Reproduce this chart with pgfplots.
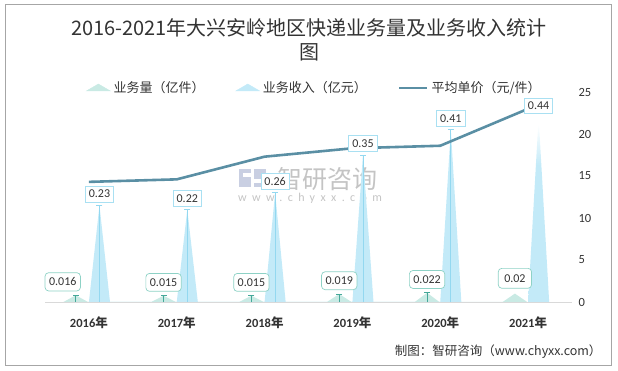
\documentclass[border=0pt]{standalone}
\usepackage{fontspec}
\setmainfont{Carlito}
\newfontfamily\cjk{Noto Sans CJK SC}
\usepackage{pgfplots}
\pgfplotsset{compat=1.18}
\definecolor{volcol}{HTML}{C9EAE4}
\definecolor{revcol}{HTML}{C3EAF8}
\definecolor{linecol}{HTML}{5A8FA4}
\definecolor{volborder}{HTML}{8ED2C6}
\definecolor{volline}{HTML}{45A899}
\definecolor{revborder}{HTML}{A9E0F2}
\definecolor{revline}{HTML}{93D8F0}
\definecolor{framecol}{HTML}{A6A6A6}
\definecolor{axisgray}{HTML}{D9D9D9}
\definecolor{txt}{HTML}{333333}
\definecolor{wmcol}{HTML}{C4C4C4}
\definecolor{logocol}{HTML}{C9CFE2}
\pgfdeclareverticalshading{revfade}{100bp}{color(0bp)=(revcol); color(62bp)=(revcol); color(73bp)=(white); color(100bp)=(white)}
\newcommand\yr[1]{\textbf{#1}{\cjk\bfseries 年}}
\tikzset{vollab/.style={draw=volborder, fill=white, rounded corners=3.5pt, text=txt, font=\fontsize{12}{12}\selectfont, inner xsep=4pt, inner ysep=5pt, yshift=4pt, anchor=south, line width=0.7pt}}
\pgfplotsset{base/.style={at={(45pt,69pt)}, anchor=south west, scale only axis,
  width=527pt, height=210pt, xmin=-0.5, xmax=5.5, clip=false}}
\begin{document}
\begin{tikzpicture}[x=1pt,y=1pt]
\useasboundingbox (0,0) rectangle (618,371);
\draw[color=framecol, line width=0.9pt] (5,6) rectangle (611,367);
\node[font=\cjk\fontsize{20}{24}\selectfont, align=center, text=txt] at (309,331) {2016-2021年大兴安岭地区快递业务量及业务收入统计\\图};
% watermark
\fill[logocol] (239,184) rectangle (251,202);
\fill[white] (243,194) rectangle (251,198);
\fill[logocol] (254,184) rectangle (266,202);
\fill[white] (254,188) rectangle (262,192);
\node[text=wmcol, font=\cjk\fontsize{25}{25}\selectfont] at (327,192) {智研咨询};
\node[text=wmcol, font=\fontsize{12}{12}\selectfont\addfontfeature{LetterSpace=45}] at (310,173) {www.chyxx.com};
\node[text=txt, font=\cjk\fontsize{12.5}{14}\selectfont, anchor=east] at (605,19) {制图：智研咨询（www.chyxx.com）};

% spikes (hidden left scale)
\begin{axis}[base, ymin=0, ymax=0.5,
  axis y line=none, axis x line*=bottom,
  x axis line style={draw=axisgray, line width=0.9pt, -},
  xtick={0,...,5},
  xticklabels={\yr{2016},\yr{2017},\yr{2018},\yr{2019},\yr{2020},\yr{2021}},
  major tick length=0,
  xticklabel style={yshift=-11pt, font=\fontsize{12.5}{14}\selectfont, text=txt}]
\addplot[fill=volcol, draw=none] coordinates {(-0.29,0)(-0.15,0.016)(-0.01,0) (0.71,0)(0.85,0.015)(0.99,0) (1.71,0)(1.85,0.015)(1.99,0) (2.71,0)(2.85,0.019)(2.99,0) (3.71,0)(3.85,0.022)(3.99,0) (4.71,0)(4.85,0.02)(4.99,0)};
\addplot[fill=revcol, draw=none] coordinates {(0,0)(0.12,0.23)(0.24,0) (1,0)(1.12,0.22)(1.24,0) (2,0)(2.12,0.26)(2.24,0) (3,0)(3.12,0.35)(3.24,0) (4,0)(4.12,0.41)(4.24,0)};
\addplot[draw=none, shade, shading=revfade] coordinates {(5,0)(5.12,0.44)(5.24,0)};
\addplot[ycomb, color=volline, line width=0.7pt, mark=-, mark size=3pt]
  coordinates {(-0.15,0.016) (0.85,0.015) (1.85,0.015) (2.85,0.019) (3.85,0.022)};
\addplot[ycomb, color=revline, line width=0.7pt, mark=-, mark size=3pt]
  coordinates {(0.12,0.23) (1.12,0.22) (2.12,0.26) (3.12,0.35) (4.12,0.41)};
\end{axis}

% average price line (right scale) and legend
\begin{axis}[base, ymin=0, ymax=25,
  axis x line=none, axis y line*=right,
  y axis line style={draw=none},
  ytick={0,5,...,25}, major tick length=0,
  yticklabel style={anchor=west, xshift=3pt, font=\fontsize{12.5}{14}\selectfont, text=txt},
  /pgf/number format/assume math mode=true,
  legend columns=3,
  legend style={draw=none, fill=none, at={(0.072,1)}, anchor=west, yshift=4pt,
    font=\cjk\fontsize{13}{15}\selectfont, text=txt,
    /tikz/every even column/.append style={column sep=29pt},
    /tikz/every odd column/.append style={column sep=1pt}}]
\addlegendimage{legend image code/.code={\fill[volcol] (0pt,-3pt) -- (12pt,4pt) -- (24pt,-3pt) -- cycle;}}
\addlegendentry{业务量（亿件）}
\addlegendimage{legend image code/.code={\fill[revcol] (0pt,-3pt) -- (12pt,4pt) -- (24pt,-3pt) -- cycle;}}
\addlegendentry{业务收入（亿元）}
\addplot[color=linecol, line width=2.6pt, mark=none,
  legend image code/.code={\draw[linecol, line width=2.6pt] (0pt,0pt) -- (28pt,0pt);}]
  coordinates {(0,14.3)(1,14.6)(2,17.3)(3,18.3)(4,18.6)(5,23.0)};
\addlegendentry{平均单价（元/件）}
\end{axis}

% data labels on top
\begin{axis}[base, ymin=0, ymax=0.5, hide axis]
\addplot[draw=none, mark=none,
  nodes near coords, point meta=explicit symbolic,
  every node near coord/.append style={vollab, xshift=-13pt}]
  coordinates {(-0.15,0.016)[0.016]};
\addplot[draw=none, mark=none,
  nodes near coords, point meta=explicit symbolic,
  every node near coord/.append style={vollab}]
  coordinates {(0.85,0.015)[0.015] (1.85,0.015)[0.015] (2.85,0.019)[0.019] (3.85,0.022)[0.022]};
\addplot[draw=none, mark=none,
  nodes near coords, point meta=explicit symbolic,
  every node near coord/.append style={vollab, inner xsep=6pt, inner ysep=6pt, yshift=1pt}]
  coordinates {(4.85,0.02)[0.02]};
\addplot[draw=none, mark=none,
  nodes near coords, point meta=explicit symbolic,
  every node near coord/.append style={draw=revborder, fill=white, text=txt, font=\fontsize{12}{12}\selectfont, inner xsep=3.5pt, inner ysep=4pt, yshift=3pt, anchor=south, line width=0.7pt}]
  coordinates {(0.12,0.23)[0.23] (1.12,0.22)[0.22] (2.12,0.26)[0.26] (3.12,0.35)[0.35] (4.12,0.41)[0.41] (5.12,0.44)[0.44]};
\end{axis}
\end{tikzpicture}
\end{document}
